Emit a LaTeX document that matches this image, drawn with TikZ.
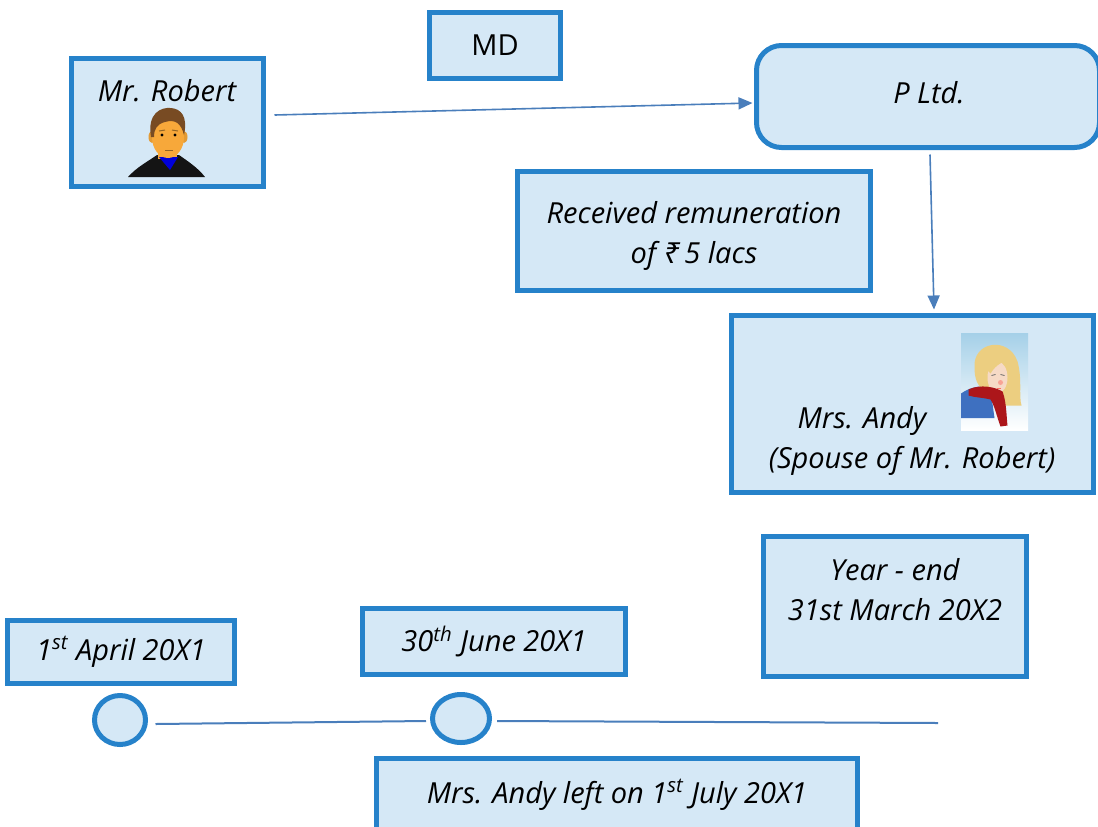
\documentclass[tikz,border=0pt]{standalone}
\usepackage{fontspec}
\setmainfont{Open Sans}
\newfontfamily\rupeefont{Noto Sans}
\usetikzlibrary{shapes.geometric,arrows.meta}
\definecolor{boxline}{RGB}{38,130,202}
\definecolor{boxfill}{RGB}{213,232,246}
\definecolor{arrline}{RGB}{74,126,187}
\definecolor{faceor}{RGB}{247,168,58}
\definecolor{hairbr}{RGB}{120,75,35}
\definecolor{skyb}{RGB}{165,208,232}
\definecolor{blond}{RGB}{236,206,128}
\definecolor{skin}{RGB}{246,218,198}
\definecolor{shirtb}{RGB}{62,112,192}
\definecolor{scarf}{RGB}{172,22,26}
\newcommand\bigtxt{\fontsize{14.5}{20}\selectfont}

\begin{document}
\begin{tikzpicture}[x=0.5pt,y=-0.5pt,
  box/.style 2 args={draw=boxline,fill=boxfill,line width=2.5pt,minimum width=#1*0.5pt,minimum height=#2*0.5pt,inner sep=0pt},
  dot/.style 2 args={ellipse,draw=boxline,fill=boxfill,line width=2.5pt,minimum width=#1*0.5pt,minimum height=#2*0.5pt,inner sep=0pt},
  txt/.style={font=\bigtxt\itshape,align=center,inner sep=0pt},
  arr/.style={draw=arrline,line width=0.8pt,-{Triangle[length=7pt,width=6pt]}},
  tline/.style={draw=arrline,line width=1pt}]

    \useasboundingbox (0,0) rectangle (1098,826);

    \node[box={131}{66},font=\bigtxt] (md) at (495,45.5) {MD};
    \node[box={192}{128}] (robert) at (167.5,122.5) {};
    \node[txt] (robertname) at (167,91) {Mr. Robert};
    \node[box={343}{102},rounded corners=12.5pt] (pltd) at (928,96.5) {};
    \node[txt] (pltdname) at (929,93) {P Ltd.};
    \node[box={353}{119}] (remun) at (694,231) {};
    \node[txt] (remuntxt) at (694,236) {Received remuneration\\of {\rupeefont\itshape ₹}\,5 lacs};
    \node[box={362}{177}] (andy) at (912.5,404) {};
    \node[txt] (andyname) at (862,421) {Mrs. Andy};
    \node[txt] (andynote) at (912,461) {(Spouse of Mr. Robert)};
    \node[box={263}{140}] (yearend) at (895,606.5) {};
    \node[txt] (yearendtxt) at (895,590) {Year - end\\31st March 20X2};
    \node[box={227}{63},txt] (april) at (121,652) {1\textsuperscript{st} April 20X1};
    \node[box={263}{66},txt] (june) at (494,641.5) {30\textsuperscript{th} June 20X1};
    \node[box={481}{74},txt] (left) at (617,795) {Mrs. Andy left on 1\textsuperscript{st} July 20X1};

    \node[dot={51}{49}] (d1) at (120,720) {};
    \node[dot={57}{48}] (d2) at (461,718.5) {};
    \coordinate (tlend) at (938,723);

    \draw[arr] ([xshift=4.25pt,yshift=3.75pt]robert.east) -- ([xshift=-0.75pt,yshift=-3.25pt]pltd.west);
    \draw[arr] ([xshift=1pt,yshift=-2.25pt]pltd.south) -- ([xshift=10.75pt,yshift=1.75pt]andy.north);
    \draw[tline] ([xshift=3.75pt,yshift=-2pt]d1.east) -- ([xshift=-2pt,yshift=-1.25pt]d2.west);
    \draw[tline] ([xshift=2.5pt,yshift=-1.25pt]d2.east) -- (tlend);

\begin{scope}[shift={(167,143)}]
    \fill[black!92] (-39,34) .. controls (-30,24) and (-20,19) .. (-10,12) -- (12,12) .. controls (22,19) and (31,25) .. (38,34) -- cycle;
    \fill[faceor] (-9,0) rectangle (10,16);
    \fill[blue!85!black] (-8,14) -- (11,14) -- (3,27) -- cycle;
    \fill[faceor!92!black] (-15,-6) ellipse [x radius=3.5,y radius=6];
    \fill[faceor!92!black] (17,-6) ellipse [x radius=3.5,y radius=6];
    \fill[faceor] (1,-6) ellipse [x radius=16,y radius=21];
    \fill[hairbr] (-16,-6) .. controls (-20,-30) and (-6,-36) .. (4,-35) .. controls (14,-34) and (21,-27) .. (17,-8) .. controls (14,-20) and (8,-24) .. (-2,-21) .. controls (-10,-19) and (-13,-14) .. (-13,-6) -- cycle;
    \fill (-5,-8) circle [radius=1.6];
    \fill (8,-8) circle [radius=1.6];
    \draw[faceor!60!black,line width=0.5pt] (-8,-12) -- (-2,-13) (5,-13) -- (11,-12);
    \draw[faceor!60!black,line width=0.5pt] (-2,7) -- (6,7);
\end{scope}

\begin{scope}[shift={(994.5,381.5)}]
    \shade[top color=skyb,bottom color=white] (-33.5,-48.5) rectangle (33.5,48.5);
    \fill[blond] (-20,-14) .. controls (-22,-40) and (14,-46) .. (23,-20) .. controls (28,-2) and (24,14) .. (27,24) -- (8,24) -- (-6,12) .. controls (-18,6) and (-20,-4) .. cycle;
    \fill[shirtb] (-33.5,12) .. controls (-22,4) and (-12,4) .. (-4,8) -- (0,36.5) -- (-33.5,36.5) -- cycle;
    \fill[skin] (3,-4) ellipse [x radius=10,y radius=16];
    \fill[blond] (-8,-12) .. controls (-6,-26) and (8,-30) .. (14,-22) .. controls (10,-20) and (2,-18) .. (-4,-8) -- cycle;
    \fill[scarf] (-26,8) .. controls (-14,2) and (2,6) .. (8,10) .. controls (12,20) and (12,36) .. (13,44) -- (6,45) .. controls (2,34) and (0,24) .. (-4,18) .. controls (-12,16) and (-20,16) .. (-26,14) -- cycle;
    \fill[red!25!skin] (6,1) circle [radius=2.5];
    \draw[black!60,line width=0.4pt] (-3,-6) -- (1,-7) (6,-7) -- (10,-6);
    \draw[red!50!skin,line width=0.5pt] (2,7) -- (6,7);
\end{scope}

\end{tikzpicture}
\end{document}
